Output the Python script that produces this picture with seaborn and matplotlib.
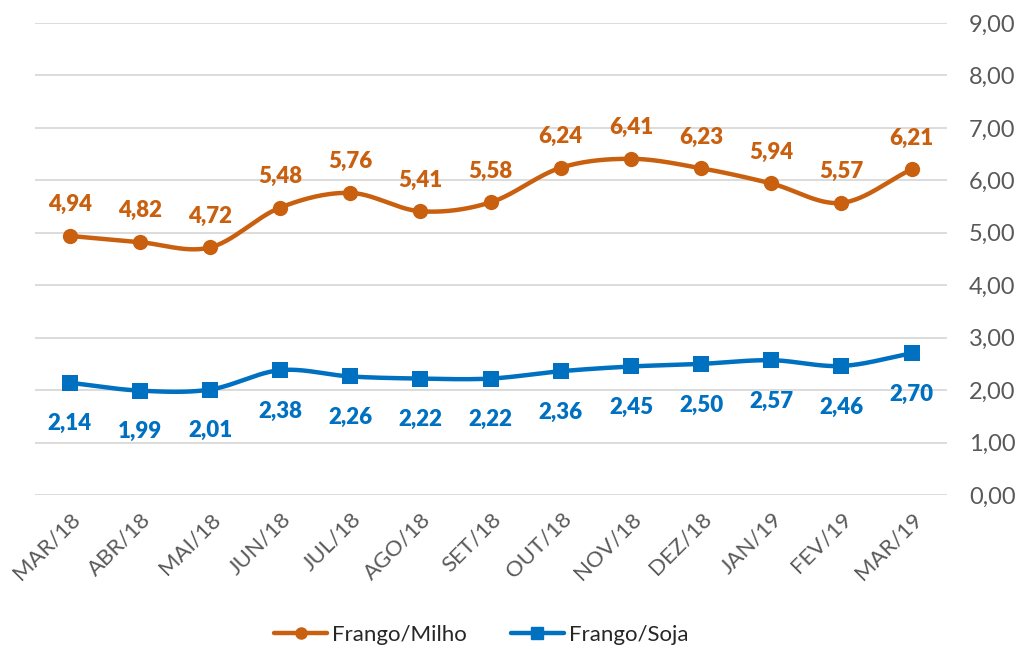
import numpy as np
import pandas as pd
import matplotlib
matplotlib.use("Agg")
import matplotlib.pyplot as plt
import seaborn as sns
from matplotlib.lines import Line2D

categories = ["MAR/18", "ABR/18", "MAI/18", "JUN/18", "JUL/18", "AGO/18", "SET/18",
              "OUT/18", "NOV/18", "DEZ/18", "JAN/19", "FEV/19", "MAR/19"]
frango_milho = [4.94, 4.82, 4.72, 5.48, 5.76, 5.41, 5.58, 6.24, 6.41, 6.23, 5.94, 5.57, 6.21]
frango_soja = [2.14, 1.99, 2.01, 2.38, 2.26, 2.22, 2.22, 2.36, 2.45, 2.50, 2.57, 2.46, 2.70]
y_ticks = [0, 1, 2, 3, 4, 5, 6, 7, 8, 9]

ORANGE = "#C9600F"
BLUE = "#0070C0"
GRAY = "#595959"

sns.set_theme(style="white")
plt.rcParams["font.family"] = ["Lato", "DejaVu Sans"]

fig = plt.figure(figsize=(10.19, 6.49), dpi=100)
ax = fig.add_axes([0.034, 0.2373, 0.895, 0.7273])

df = pd.DataFrame({"cat": categories, "x": np.arange(len(categories)),
                   "milho": frango_milho, "soja": frango_soja})


def smooth(xs, ys, n=30):
    xs = np.asarray(xs, float); ys = np.asarray(ys, float)
    px = np.concatenate([[2 * xs[0] - xs[1]], xs, [2 * xs[-1] - xs[-2]]])
    py = np.concatenate([[2 * ys[0] - ys[1]], ys, [2 * ys[-1] - ys[-2]]])
    ox, oy = [], []
    t = np.linspace(0, 1, n, endpoint=False)
    for i in range(1, len(px) - 2):
        for arr, out in ((px, ox), (py, oy)):
            p0, p1, p2, p3 = arr[i - 1], arr[i], arr[i + 1], arr[i + 2]
            out.extend(0.5 * ((2 * p1) + (-p0 + p2) * t + (2 * p0 - 5 * p1 + 4 * p2 - p3) * t ** 2
                              + (-p0 + 3 * p1 - 3 * p2 + p3) * t ** 3))
    ox.append(xs[-1]); oy.append(ys[-1])
    return np.array(ox), np.array(oy)


for col, color, marker, ms in (("milho", ORANGE, "o", 11), ("soja", BLUE, "s", 12)):
    sx, sy = smooth(df["x"], df[col])
    ax.plot(sx, sy, color=color, lw=3.2, solid_capstyle="round", zorder=3)
    sns.scatterplot(data=df, x="x", y=col, ax=ax, color=color, marker=marker,
                    s=ms ** 2, edgecolor=color, linewidth=0, zorder=4, legend=False)

for xi, v in zip(df["x"], frango_milho):
    ax.annotate(f"{v:.2f}".replace(".", ","), (xi, v), xytext=(0, 15), textcoords="offset points",
                ha="center", va="bottom", color=ORANGE, fontsize=16, fontweight="heavy")
for xi, v in zip(df["x"], frango_soja):
    ax.annotate(f"{v:.2f}".replace(".", ","), (xi, v), xytext=(0, -22), textcoords="offset points",
                ha="center", va="top", color=BLUE, fontsize=16, fontweight="heavy")

ax.set_xlim(-0.5, len(categories) - 0.5)
ax.set_ylim(0, 9)
ax.set_yticks(y_ticks)
ax.set_yticklabels([f"{v:.2f}".replace(".", ",") for v in y_ticks], color=GRAY, fontsize=17)
ax.yaxis.tick_right()
ax.tick_params(axis="y", length=0, pad=16)
ax.set_xticks(df["x"])
ax.set_xticklabels(categories, rotation=45, ha="right", rotation_mode="anchor",
                   color=GRAY, fontsize=16)
ax.tick_params(axis="x", length=0, pad=10)
ax.grid(axis="y", color="#D9D9D9", lw=1.3)
ax.set_axisbelow(True)
for s in ax.spines.values():
    s.set_visible(False)
ax.set_xlabel(""); ax.set_ylabel("")

handles = [Line2D([0], [0], color=ORANGE, lw=3.2, marker="o", markersize=8),
           Line2D([0], [0], color=BLUE, lw=3.2, marker="s", markersize=8)]
fig.legend(handles, ["Frango/Milho", "Frango/Soja"], loc="center", bbox_to_anchor=(0.472, 0.022),
           ncol=2, frameon=False, fontsize=16, handlelength=2.4, columnspacing=2.0,
           labelcolor="#262626", handletextpad=0.2)

fig.savefig("out.png", dpi=100)
